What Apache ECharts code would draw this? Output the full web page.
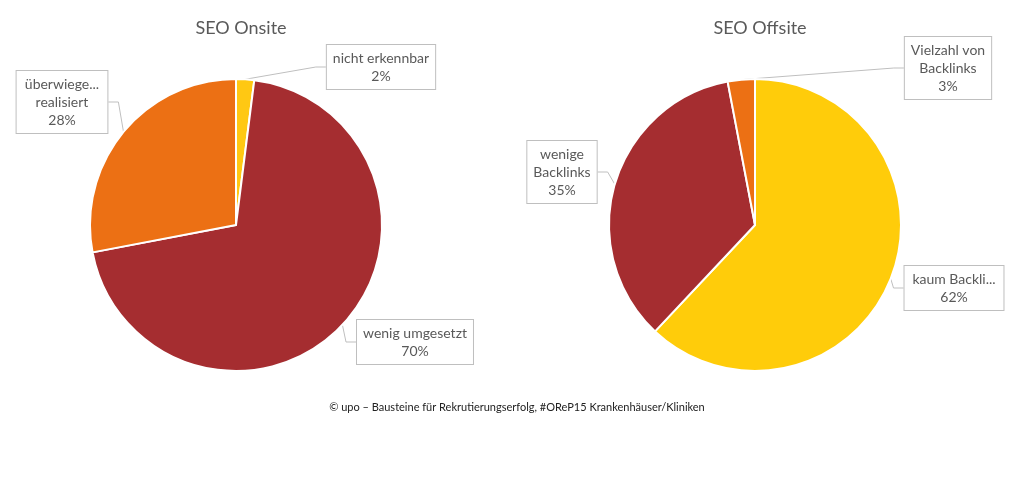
<!DOCTYPE html>
<html><head><meta charset="utf-8">
<script src="https://cdn.jsdelivr.net/npm/echarts@6/dist/echarts.min.js"></script>
<style>html,body{margin:0;padding:0;background:#fff}#c{width:1024px;height:493px}</style>
</head><body><div id="c"></div>
<script>
const onsiteNames = ['nicht erkennbar', 'wenig umgesetzt', 'überwiegend\nrealisiert'];
const onsiteValues = [2, 70, 28];
const offsiteNames = ['kaum Backlinks', 'wenige\nBacklinks', 'Vielzahl von\nBacklinks'];
const offsiteValues = [62, 35, 3];
const titles = ['SEO Onsite', 'SEO Offsite'];
const footer = '© upo – Bausteine für Rekrutierungserfolg, #OReP15 Krankenhäuser/Kliniken';

const labelPos = [
  [[381, 67], [415, 342], [62, 102]],
  [[954, 288], [562, 172], [948, 68]]
];
const FONT = 'Lato, "Open Sans", sans-serif';
const chart = echarts.init(document.getElementById('c'));
function mk(names, vals, colors, cx, si) {
  return {
    type: 'pie', center: [cx, 225], radius: 146, startAngle: 90, clockwise: true,
    label: {
      show: true, formatter: p => p.name + '\n' + p.value + '%',
      color: '#595959', fontFamily: FONT, fontSize: 14, lineHeight: 18, align: 'center',
      backgroundColor: '#fff', borderColor: '#bfbfbf', borderWidth: 1, padding: [4, 6]
    },
    labelLine: { show: true, length: 10, length2: 10, lineStyle: { color: '#bfbfbf', width: 1 } },
    labelLayout: p => ({ x: labelPos[si][p.dataIndex][0], y: labelPos[si][p.dataIndex][1], align: 'center', verticalAlign: 'middle' }),
    itemStyle: { borderColor: '#fff', borderWidth: 2 },
    emphasis: { disabled: true },
    data: names.map((n, i) => ({ name: n, value: vals[i], itemStyle: { color: colors[i] } }))
  };
}
chart.setOption({
  animation: false,
  title: [
    { text: titles[0], left: 236, top: 14, textAlign: 'center', textStyle: { color: '#595959', fontSize: 18, fontWeight: 'normal', fontFamily: FONT } },
    { text: titles[1], left: 755, top: 14, textAlign: 'center', textStyle: { color: '#595959', fontSize: 18, fontWeight: 'normal', fontFamily: FONT } },
    { text: footer, left: 512, top: 397, textAlign: 'center', textStyle: { color: '#222', fontSize: 11, fontWeight: 'normal', fontFamily: FONT } }
  ],
  series: [
    mk(onsiteNames, onsiteValues, ['#FFC813', '#A52D30', '#EC7014'], 236, 0),
    mk(offsiteNames, offsiteValues, ['#FFCC0A', '#A52D30', '#EC7014'], 755, 1)
  ]
});
</script></body></html>
